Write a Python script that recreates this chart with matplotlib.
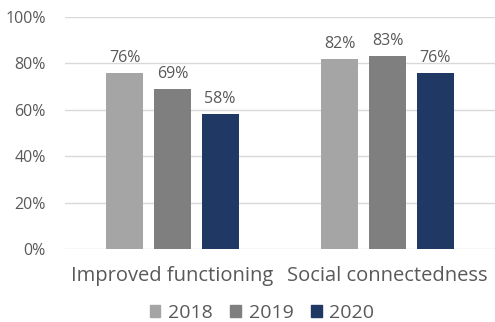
import matplotlib
matplotlib.use("Agg")
import matplotlib.pyplot as plt
import numpy as np
from matplotlib.patches import Patch

categories = ["Improved functioning", "Social connectedness"]
years = ["2018", "2019", "2020"]
values_2018 = [76, 82]
values_2019 = [69, 83]
values_2020 = [58, 76]
yticks = [0, 20, 40, 60, 80, 100]

colors = ["#A5A5A5", "#7F7F7F", "#203864"]
plt.rcParams['font.family'] = ['Open Sans', 'DejaVu Sans']

fig = plt.figure(figsize=(4.95, 3.22), dpi=100)
ax = fig.add_axes([65/495, 1 - 249/322, 430/495, (249-17)/322])

x = np.arange(len(categories))
width = 0.172
step = 0.221
series = [values_2018, values_2019, values_2020]
for i, (vals, col, yr) in enumerate(zip(series, colors, years)):
    bars = ax.bar(x + (i - 1) * step, vals, width, color=col, label=yr, zorder=3)
    for b, v in zip(bars, vals):
        ax.annotate(f"{v}%", (b.get_x() + b.get_width() / 2, v), xytext=(0, 5),
                    textcoords="offset points", ha="center", va="bottom",
                    fontsize=11.5, color="#595959")

ax.set_xlim(-0.5, 1.5)
ax.set_ylim(0, 100)
ax.set_yticks(yticks)
ax.set_yticklabels([f"{t}%" for t in yticks], fontsize=11.5, color="#595959")
ax.set_xticks(x)
ax.set_xticklabels(categories, fontsize=14.5, color="#595959")
ax.tick_params(axis="both", length=0)
ax.tick_params(axis="x", pad=12)
ax.tick_params(axis="y", pad=14)
ax.yaxis.grid(True, color="#D9D9D9", linewidth=1)
ax.set_axisbelow(True)
for s in ax.spines.values():
    s.set_visible(False)

handles = [Patch(color=c, label=y) for c, y in zip(colors, years)]
fig.legend(handles=handles, loc="center", bbox_to_anchor=(262/495, 1 - 313/322), ncol=3,
           frameon=False, fontsize=14, handlelength=0.55, handleheight=0.55,
           handletextpad=0.4, columnspacing=0.9, labelcolor="#595959")

fig.savefig("out.png", dpi=100)
